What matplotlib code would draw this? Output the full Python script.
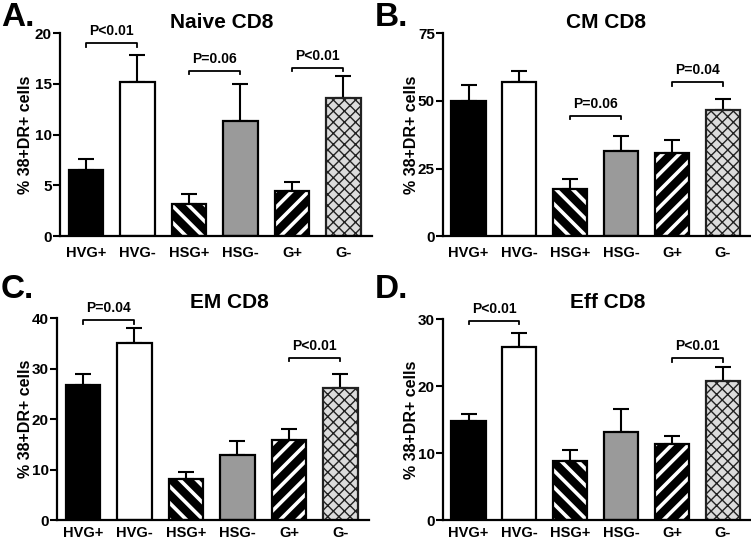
import matplotlib
matplotlib.use("Agg")
import matplotlib.pyplot as plt
import numpy as np

plt.rcParams['font.family'] = ['Liberation Sans', 'DejaVu Sans']
plt.rcParams['font.weight'] = 'bold'

groups = ['HVG+', 'HVG-', 'HSG+', 'HSG-', 'G+', 'G-']

naive_mean = [6.5, 15.2, 3.2, 11.3, 4.5, 13.6]
naive_err = [1.1, 2.6, 1.0, 3.7, 0.8, 2.2]
cm_mean = [50.0, 57.0, 17.3, 31.5, 30.8, 46.6]
cm_err = [6.0, 4.0, 4.0, 5.5, 4.7, 4.0]
em_mean = [26.8, 35.0, 8.1, 12.9, 15.9, 26.2]
em_err = [2.2, 3.0, 1.5, 2.8, 2.2, 2.8]
eff_mean = [14.8, 25.8, 8.9, 13.2, 11.4, 20.8]
eff_err = [1.1, 2.2, 1.6, 3.4, 1.1, 2.1]

# (bar i, bar j, bracket height, text)
naive_p = [(0, 1, 19.0, 'P<0.01'), (2, 3, 16.3, 'P=0.06'), (4, 5, 16.6, 'P<0.01')]
cm_p = [(2, 3, 44.5, 'P=0.06'), (4, 5, 56.8, 'P=0.04')]
em_p = [(0, 1, 39.6, 'P=0.04'), (4, 5, 32.2, 'P<0.01')]
eff_p = [(0, 1, 29.8, 'P<0.01'), (4, 5, 24.2, 'P<0.01')]

fig = plt.figure(figsize=(7.51, 5.43), dpi=100)

def panel(rect, mean, err, ymax, step, brackets, title, letter, title_xy, letter_xy, ylab_x, xpad):
    ax = fig.add_axes(rect)
    x = np.arange(len(groups))
    w = 0.67
    # plain bars
    ax.bar(x[0], mean[0], w, color='black', edgecolor='black', linewidth=1.6, zorder=2)
    ax.bar(x[1], mean[1], w, color='white', edgecolor='black', linewidth=1.6, zorder=2)
    ax.bar(x[3], mean[3], w, color='#9a9a9a', edgecolor='black', linewidth=1.6, zorder=2)
    # striped bars: black with white stripes
    with plt.rc_context({'hatch.linewidth': 2.6}):
        ax.bar(x[2], mean[2], w, color='black', edgecolor='white', hatch='\\\\', linewidth=0, zorder=2)
        ax.bar(x[4], mean[4], w, color='black', edgecolor='white', hatch='//', linewidth=0, zorder=2)
    ax.bar([x[2], x[4]], [mean[2], mean[4]], w, fill=False, edgecolor='black', linewidth=1.6, zorder=3)
    # cross-hatched bar
    with plt.rc_context({'hatch.linewidth': 1.0}):
        ax.bar(x[5], mean[5], w, color='#dcdcdc', edgecolor='#222222', hatch='xxx', linewidth=1.6, zorder=2)
    # upper error bars only
    ax.errorbar(x, mean, yerr=[np.zeros(len(err)), err], fmt='none', ecolor='black',
                elinewidth=1.5, capsize=6, capthick=1.5, zorder=1)

    ax.set_xlim(-0.5, 5.55)
    ax.set_ylim(0, ymax)
    ax.set_yticks(np.arange(0, ymax + 0.1, step))
    ax.set_xticks(x)
    ax.set_xticklabels(groups)
    ax.tick_params(axis='x', length=0, pad=xpad, labelsize=10.5)
    ax.tick_params(axis='y', length=5, width=1.5, pad=1, labelsize=11)
    for s in ['top', 'right']:
        ax.spines[s].set_visible(False)
    for s in ['left', 'bottom']:
        ax.spines[s].set_linewidth(1.6)
    ax.patch.set_alpha(0)

    drop = ymax * 0.018
    for i, j, yb, txt in brackets:
        ax.plot([i, i, j, j], [yb - drop, yb, yb, yb - drop], color='black', lw=1.3,
                clip_on=False)
        ax.text((i + j) / 2, yb + ymax * 0.025, txt, ha='center', va='bottom',
                fontsize=10, fontweight='bold', clip_on=False)

    fig.text(title_xy[0] / 751, 1 - title_xy[1] / 543, title, ha='center', va='center',
             fontsize=15, fontweight='bold')
    fig.text(letter_xy[0] / 751, 1 - letter_xy[1] / 543, letter, ha='left', va='center',
             fontsize=24, fontweight='bold')
    fig.text(ylab_x / 751, rect[1] + rect[3] / 2, '% 38+DR+ cells', rotation=90,
             ha='center', va='center', fontsize=11.5, fontweight='bold')
    return ax

panel([0.080, 0.565, 0.415, 0.374], naive_mean, naive_err, 20, 5, naive_p,
      'Naive CD8', 'A.', (222, 22), (1, 18), 26, 7)
panel([0.590, 0.565, 0.410, 0.374], cm_mean, cm_err, 75, 25, cm_p,
      'CM CD8', 'B.', (606, 22), (375, 18), 411, 7)
panel([0.076, 0.042, 0.415, 0.372], em_mean, em_err, 40, 10, em_p,
      'EM CD8', 'C.', (229, 303), (1, 290), 25, 4)
panel([0.590, 0.042, 0.410, 0.370], eff_mean, eff_err, 30, 10, eff_p,
      'Eff CD8', 'D.', (608, 302), (375, 290), 411, 4)

fig.savefig('out.png', dpi=100)
